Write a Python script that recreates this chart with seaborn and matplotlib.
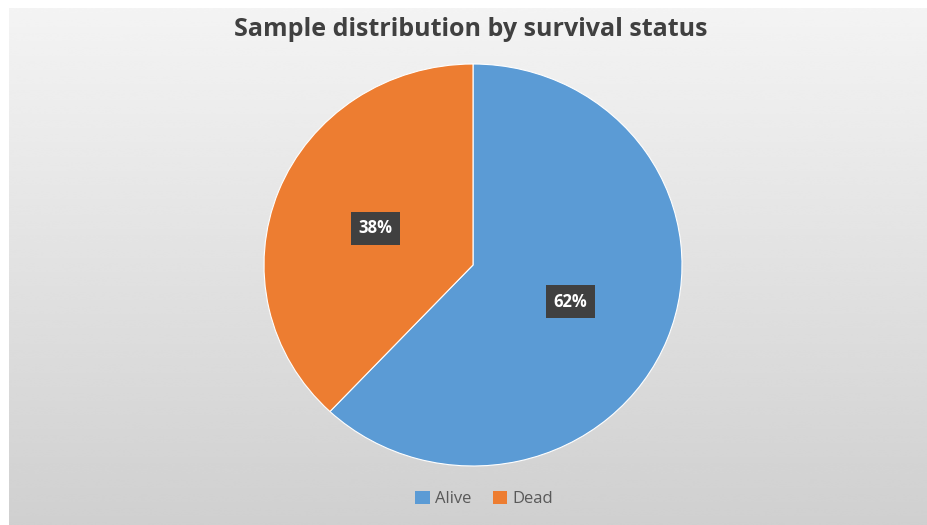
import numpy as np
import matplotlib
matplotlib.use("Agg")
import matplotlib.pyplot as plt
from matplotlib.patches import Patch
import seaborn as sns

# Survival status of the sample
categories = ["Alive", "Dead"]
shares = [62, 38]
colors = ["#5b9bd5", "#ed7d31"]
title = "Sample distribution by survival status"

sns.set_theme(style="white")
plt.rcParams["font.family"] = ["Open Sans", "DejaVu Sans"]

fig = plt.figure(figsize=(9.27, 5.25), dpi=100)
fig.patch.set_facecolor("white")

# Gradient chart-area background
bg = fig.add_axes([9 / 927, 0, 1 - 9 / 927, 1 - 8 / 525])
grad = np.linspace(0.955, 0.815, 256).reshape(-1, 1)
bg.imshow(np.repeat(grad, 2, axis=1), cmap="gray", vmin=0, vmax=1,
          aspect="auto", extent=[0, 1, 0, 1], interpolation="bicubic")
bg.set_axis_off()

# Pie
cx, cy = 473 / 927, 1 - 265 / 525
w, h = 418 / 927, 402 / 525
ax = fig.add_axes([cx - w / 2, cy - h / 2, w, h])
wedges, _, autotexts = ax.pie(
    shares, colors=colors, startangle=90, counterclock=False,
    autopct=lambda p: f"{p:.0f}%", pctdistance=0.5,
    wedgeprops=dict(edgecolor="white", linewidth=0.8),
    textprops=dict(color="white", fontsize=12, fontweight="bold"),
)
for t in autotexts:
    t.set_bbox(dict(boxstyle="square,pad=0.45", facecolor="#404040", edgecolor="none"))
ax.set_aspect("auto")
ax.set_xlim(-1, 1)
ax.set_ylim(-1, 1)
ax.set_axis_off()

fig.text(0.5075, 1 - 29 / 525, title, ha="center", va="center",
         fontsize=18, fontweight="bold", color="#404040")

handles = [Patch(facecolor=c, edgecolor="none", label=l) for c, l in zip(colors, categories)]
fig.legend(handles=handles, loc="center", bbox_to_anchor=(0.522, 1 - 499 / 525),
           ncol=2, frameon=False, fontsize=12, handlelength=0.88, handleheight=0.88,
           handletextpad=0.3, columnspacing=1.3, labelcolor="#595959")

fig.savefig("out.png", dpi=100)
